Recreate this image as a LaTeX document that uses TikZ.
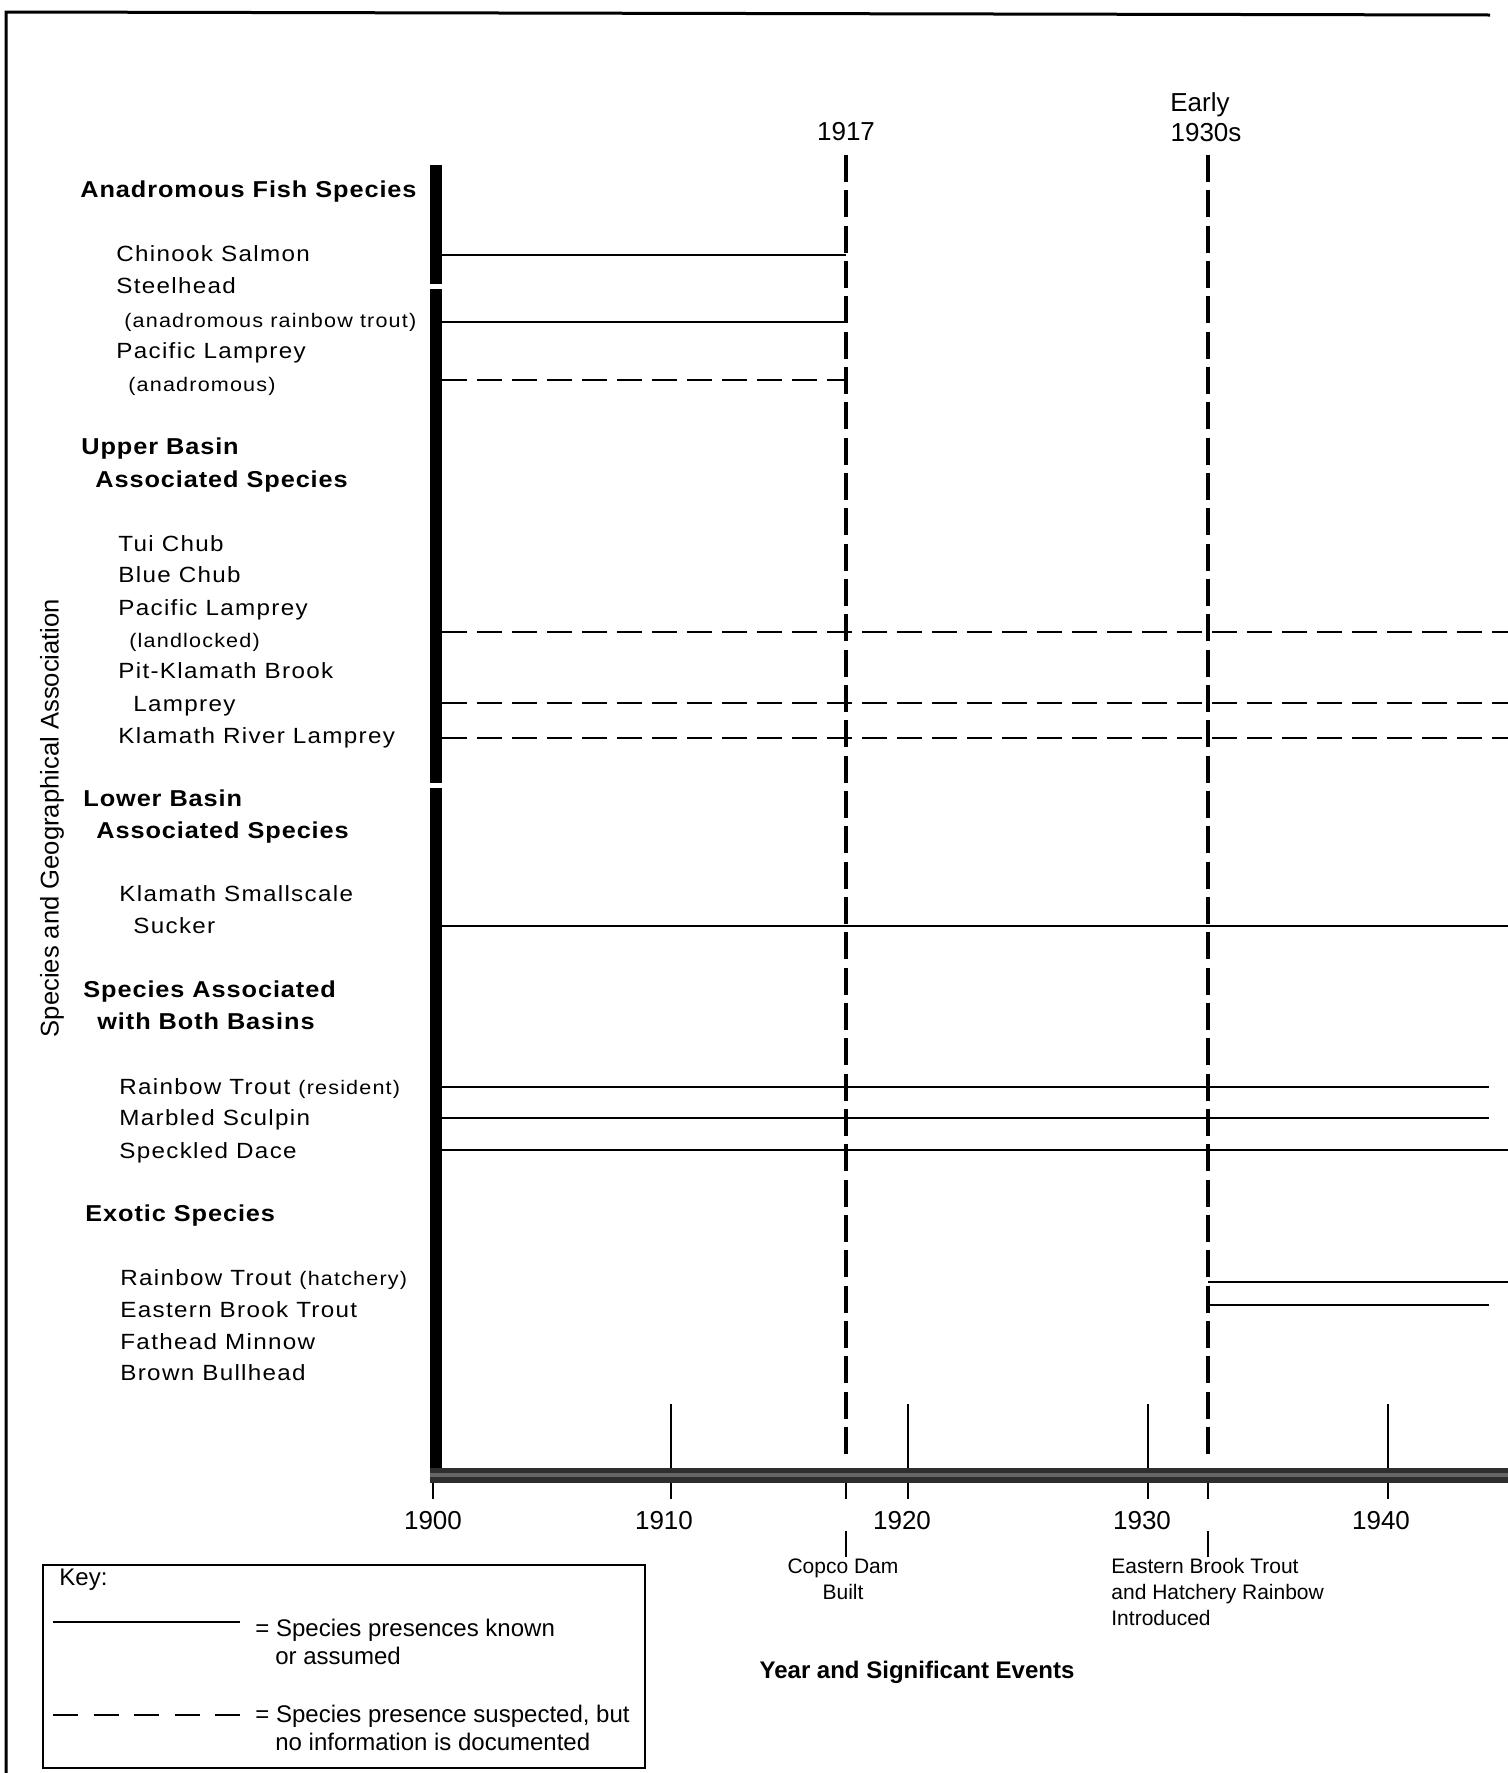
\documentclass[tikz,border=0pt]{standalone}
\usepackage{fontspec}
\setmainfont{Liberation Sans}
\newfontfamily\labfont[FakeStretch=1.1,LetterSpace=6]{Liberation Sans}
\newfontfamily\headfont[FakeStretch=1.1,LetterSpace=4]{Liberation Sans}
\begin{document}
\begin{tikzpicture}[x=0.5pt,y=-0.5pt,
  head/.style={anchor=mid west, inner sep=0pt, yshift=-1.5pt, font=\headfont\bfseries\fontsize{11.5}{13}\selectfont},
  spec/.style={anchor=mid west, inner sep=0pt, yshift=-1.5pt, font=\labfont\fontsize{11}{13}\selectfont},
  paren/.style={anchor=mid west, inner sep=0pt, yshift=-1.5pt, font=\labfont\fontsize{9.8}{11}\selectfont},
  yearlab/.style={inner sep=0pt, font=\fontsize{13}{15}\selectfont},
  evtext/.style={inner sep=0pt, font=\fontsize{10.5}{13}\selectfont},
  keytext/.style={anchor=mid west, inner sep=0pt, yshift=-1.2pt, font=\fontsize{12}{14}\selectfont},
  presence/.style={line width=1pt},
  suspect/.style={line width=1pt, dash pattern=on 12.5pt off 5pt},
  keydash/.style={line width=1pt, dash pattern=on 12.5pt off 7.8pt},
  eventline/.style={line width=2pt, dash pattern=on 13.5pt off 4.165pt},
  tick/.style={line width=1pt},
  barfill/.style={fill=black, draw=none},
]
\useasboundingbox (0,0) rectangle (1508,1773);
\fill[white] (0,0) rectangle (1508,1773);

% frame
\coordinate (fTL) at (6,12);
\coordinate (fTR) at (1490,15);
\coordinate (fBL) at (6,1773);
\draw[line width=1.5pt] (fTR) -- (fTL) -- (fBL);

% thick vertical bar (species axis)
\fill[barfill] (430,165) rectangle (442,284);
\fill[barfill] (430,289) rectangle (442,783);
\fill[barfill] (430,788) rectangle (442,1470);

% horizontal time axis band
\fill[black!82] (430,1468) rectangle (1508,1483);
\fill[black!60] (430,1473) rectangle (1508,1477);

% named x positions
\coordinate (bar) at (442,0);
\coordinate (e17) at (846,0);
\coordinate (e30) at (1208,0);
\coordinate (redge) at (1508,0);
\coordinate (rend) at (1489,0);

% event dashed lines
\coordinate (e17top) at (846,155);
\coordinate (e17bot) at (846,1458);
\coordinate (e30top) at (1208,155);
\coordinate (e30bot) at (1208,1454);
\draw[eventline] (e17top) -- (e17bot);
\draw[eventline] (e30top) -- (e30bot);

\node[yearlab] (l1917) at (846,132) {1917};
\node[yearlab, anchor=base] (learly) at (1200,111) {Early};
\node[yearlab] (l1930s) at (1206,133) {1930s};

% ticks above axis
\foreach \x/\n in {671/a, 908/b, 1148/c, 1388/d}{
  \coordinate (tu\n) at (\x,1404);
  \coordinate (tb\n) at (\x,1468);
  \draw[tick] (tu\n) -- (tb\n);
}
% ticks below axis
\foreach \x/\n in {433/a, 671/b, 846/c, 908/d, 1148/e, 1208/f, 1388/g}{
  \coordinate (bu\n) at (\x,1483);
  \coordinate (bd\n) at (\x,1499);
  \draw[tick] (bu\n) -- (bd\n);
}

% year labels
\node[yearlab] (y1900) at (433,1521) {1900};
\node[yearlab] (y1910) at (664,1521) {1910};
\node[yearlab] (y1920) at (902,1521) {1920};
\node[yearlab] (y1930) at (1142,1521) {1930};
\node[yearlab] (y1940) at (1381,1521) {1940};

% event labels below
\coordinate (ev17a) at (846,1531);
\coordinate (ev17b) at (846,1557);
\coordinate (ev30a) at (1208,1531);
\coordinate (ev30b) at (1208,1557);
\draw[tick] (ev17a) -- (ev17b);
\draw[tick] (ev30a) -- (ev30b);
\node[evtext, anchor=north, align=center] (copco) at (843,1558) {Copco Dam\\Built};
\node[evtext, anchor=north west, align=left] (brook) at (1111,1558) {Eastern Brook Trout\\and Hatchery Rainbow\\Introduced};

\node[inner sep=0pt, font=\bfseries\fontsize{12}{14}\selectfont] (xlab) at (917,1672) {Year and Significant Events};

% y axis label
\node[rotate=90, inner sep=0pt, font=\fontsize{12.8}{15}\selectfont] (ylab) at (52,818) {Species and Geographical Association};

% headings
\node[head] (h1) at (80,189) {Anadromous Fish Species};
\node[head] (h2a) at (81,446) {Upper Basin};
\node[head] (h2b) at (95,479) {Associated Species};
\node[head] (h3a) at (83,798) {Lower Basin};
\node[head] (h3b) at (96,830) {Associated Species};
\node[head] (h4a) at (83,989) {Species Associated};
\node[head] (h4b) at (97,1021) {with Both Basins};
\node[head] (h5) at (85,1213) {Exotic Species};

% species
\node[spec] (s1) at (116,253) {Chinook Salmon};
\node[spec] (s2) at (116,285) {Steelhead};
\node[paren] (s2b) at (124,319) {(anadromous rainbow trout)};
\node[spec] (s3) at (116,350) {Pacific Lamprey};
\node[paren] (s3b) at (128,383) {(anadromous)};

\node[spec] (s4) at (118,543) {Tui Chub};
\node[spec] (s5) at (118,574) {Blue Chub};
\node[spec] (s6) at (118,607) {Pacific Lamprey};
\node[paren] (s6b) at (129,639) {(landlocked)};
\node[spec] (s7) at (118,670) {Pit-Klamath Brook};
\node[spec] (s7b) at (133,703) {Lamprey};
\node[spec] (s8) at (118,735) {Klamath River Lamprey};

\node[spec] (s9) at (119,893) {Klamath Smallscale};
\node[spec] (s9b) at (133,925) {Sucker};

\node[spec] (s10) at (119,1086) {Rainbow Trout {\fontsize{9.8}{11}\selectfont(resident)}};
\node[spec] (s11) at (119,1117) {Marbled Sculpin};
\node[spec] (s12) at (119,1150) {Speckled Dace};

\node[spec] (s13) at (120,1277) {Rainbow Trout {\fontsize{9.8}{11}\selectfont(hatchery)}};
\node[spec] (s14) at (120,1309) {Eastern Brook Trout};
\node[spec] (s15) at (120,1341) {Fathead Minnow};
\node[spec] (s16) at (120,1372) {Brown Bullhead};

% presence lines
\coordinate (p1) at (442,255);
\coordinate (p2) at (442,322);
\coordinate (p3) at (442,380);
\coordinate (p6) at (442,632);
\coordinate (p7) at (442,703);
\coordinate (p8) at (442,738);
\coordinate (p9) at (442,926);
\coordinate (p10) at (442,1087);
\coordinate (p11) at (442,1118);
\coordinate (p12) at (442,1150);
\coordinate (p13) at (1208,1282);
\coordinate (p14) at (1208,1305);

\draw[presence] (p1) -- (p1 -| e17);
\draw[presence] (p2) -- (p2 -| e17);
\draw[suspect] (p3) -- (p3 -| e17);
\draw[suspect] (p6) -- (p6 -| redge);
\draw[suspect] (p7) -- (p7 -| redge);
\draw[suspect] (p8) -- (p8 -| redge);
\draw[presence] (p9) -- (p9 -| redge);
\draw[presence] (p10) -- (p10 -| rend);
\draw[presence] (p11) -- (p11 -| rend);
\draw[presence] (p12) -- (p12 -| redge);
\draw[presence] (p13) -- (p13 -| redge);
\draw[presence] (p14) -- (p14 -| rend);

% key
\draw[line width=1.2pt] (43,1565) rectangle (645,1768);
\node[keytext] (keyt) at (59,1578) {Key:};
\coordinate (k1a) at (53,1622);
\coordinate (k1b) at (240,1622);
\coordinate (k2a) at (53,1715);
\coordinate (k2b) at (240,1715);
\draw[presence] (k1a) -- (k1b);
\draw[keydash] (k2a) -- (k2b);
\node[keytext] (k1t) at (255,1629) {= Species presences known};
\node[keytext] (k1u) at (275,1657) {or assumed};
\node[keytext] (k2t) at (255,1715) {= Species presence suspected, but};
\node[keytext] (k2u) at (275,1743) {no information is documented};
\end{tikzpicture}
\end{document}
